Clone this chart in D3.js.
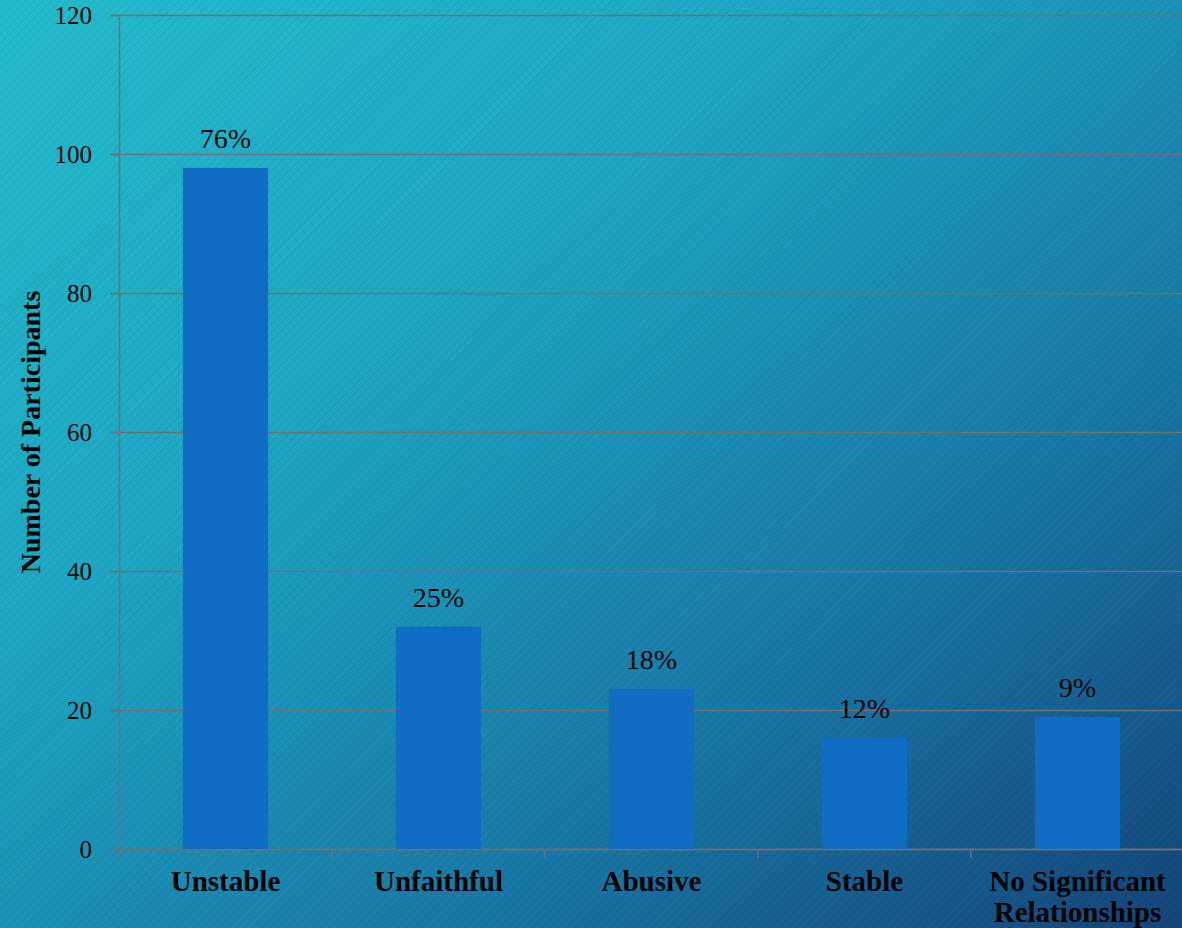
<!DOCTYPE html>
<meta charset="utf-8">
<style>
body { margin: 0; }
svg { display: block; }
svg text { font-family: "Liberation Serif", "DejaVu Serif", serif; }
.axis .domain, .axis line { stroke: #6f7175; stroke-width: 1.5px; }
.grid line { stroke: #6f7175; stroke-width: 1.5px; }
.grid .domain { display: none; }
</style>
<body>
<script src="https://d3js.org/d3.v7.min.js"></script>
<script>

var categories = ["Unstable", "Unfaithful", "Abusive", "Stable", "No Significant Relationships"];
var counts = [98, 32, 23, 16, 19];
var percents = ["76%", "25%", "18%", "12%", "9%"];
var yTicks = [0, 20, 40, 60, 80, 100, 120];

var W = 1182, H = 928;
var margin = {top: 15, right: -2, bottom: 79, left: 119};
var width = W - margin.left - margin.right,
    height = H - margin.top - margin.bottom;

var svg = d3.select("body").append("svg")
  .attr("width", W)
  .attr("height", H);

// background gradient
var defs = svg.append("defs");
var grad = defs.append("linearGradient")
  .attr("id", "bg")
  .attr("x1", "0").attr("y1", "0")
  .attr("x2", "1").attr("y2", "1");
grad.append("stop").attr("offset", "0%").attr("stop-color", "#23bccd");
grad.append("stop").attr("offset", "35%").attr("stop-color", "#1ea7c4");
grad.append("stop").attr("offset", "70%").attr("stop-color", "#1977a6");
grad.append("stop").attr("offset", "100%").attr("stop-color", "#15457a");

var pat = defs.append("pattern")
  .attr("id", "stripes")
  .attr("width", 6).attr("height", 6)
  .attr("patternUnits", "userSpaceOnUse")
  .attr("patternTransform", "rotate(45)");
pat.append("rect").attr("width", 2).attr("height", 6)
  .attr("fill", "#000").attr("opacity", 0.04);

svg.append("rect").attr("width", W).attr("height", H).attr("fill", "url(#bg)");
svg.append("rect").attr("width", W).attr("height", H).attr("fill", "url(#stripes)");

var g = svg.append("g")
  .attr("transform", "translate(" + margin.left + "," + margin.top + ")");

var x = d3.scaleBand()
  .domain(categories)
  .range([0, width])
  .padding(0);

var y = d3.scaleLinear()
  .domain([0, 120])
  .range([height, 0]);

// gridlines
g.append("g")
  .attr("class", "grid")
  .call(d3.axisLeft(y).tickValues(yTicks).tickSize(-width - 10).tickFormat(""))
  .attr("transform", "translate(-9,0)")
  .selectAll("line").attr("x1", 0);

// y axis
var yAxis = g.append("g")
  .attr("class", "axis")
  .call(d3.axisLeft(y).tickValues(yTicks).tickSize(9).tickPadding(18).tickSizeOuter(0));
yAxis.attr("font-family", null).attr("font-size", null);
yAxis.selectAll("text")
  .attr("fill", "#000")
  .style("font-size", "25px");

// x axis
var xAxis = g.append("g")
  .attr("class", "axis")
  .attr("transform", "translate(0," + height + ")")
  .call(d3.axisBottom(x).tickSize(0).tickSizeOuter(0).tickFormat(""));

// category separator ticks
xAxis.selectAll(".sep")
  .data(categories)
  .enter().append("line")
  .attr("class", "sep")
  .attr("x1", function(d) { return x(d); })
  .attr("x2", function(d) { return x(d); })
  .attr("y1", 0).attr("y2", 9);

// category labels
var lab = g.append("g").selectAll("text")
  .data(categories)
  .enter().append("text")
  .attr("x", function(d) { return x(d) + x.bandwidth() / 2; })
  .attr("y", height + 42)
  .attr("text-anchor", "middle")
  .style("font-size", "29px")
  .style("font-weight", "bold")
  .attr("fill", "#000");
lab.each(function(d) {
  var t = d3.select(this);
  var lines = d == "No Significant Relationships" ? ["No Significant", "Relationships"] : [d];
  lines.forEach(function(l, i) {
    t.append("tspan")
      .attr("x", x(d) + x.bandwidth() / 2)
      .attr("dy", i == 0 ? 0 : 31)
      .text(l);
  });
});

// bars
var barW = x.bandwidth() * 0.4;
g.selectAll(".bar")
  .data(counts)
  .enter().append("rect")
  .attr("class", "bar")
  .attr("x", function(d, i) { return x(categories[i]) + (x.bandwidth() - barW) / 2; })
  .attr("y", function(d) { return y(d); })
  .attr("width", barW)
  .attr("height", function(d) { return height - y(d); })
  .attr("fill", "#0f6dc4");

// value labels
g.selectAll(".val")
  .data(counts)
  .enter().append("text")
  .attr("class", "val")
  .attr("x", function(d, i) { return x(categories[i]) + x.bandwidth() / 2; })
  .attr("y", function(d) { return y(d) - 20; })
  .attr("text-anchor", "middle")
  .style("font-size", "28px")
  .attr("fill", "#000")
  .text(function(d, i) { return percents[i]; });

// y title
svg.append("text")
  .attr("transform", "translate(40,432) rotate(-90)")
  .attr("text-anchor", "middle")
  .style("font-size", "28px")
  .style("font-weight", "bold")
  .attr("fill", "#000")
  .text("Number of Participants");

</script>
